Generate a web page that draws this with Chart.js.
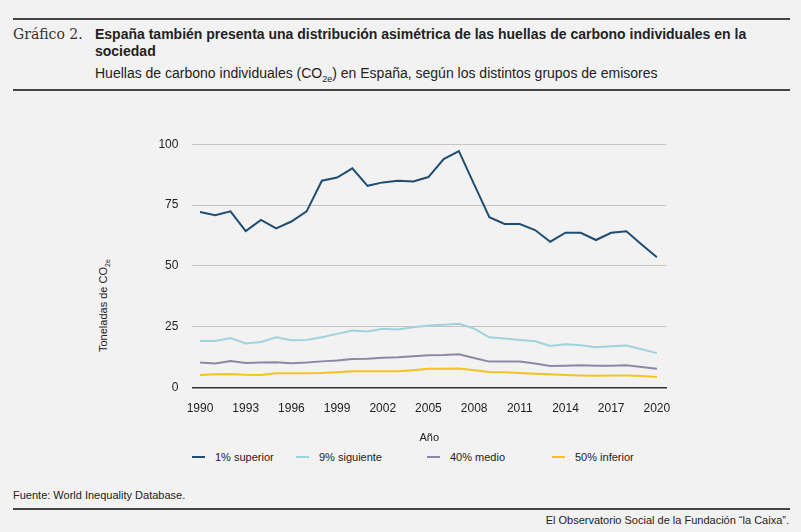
<!DOCTYPE html>
<html><head><meta charset="utf-8">
<script src="https://cdn.jsdelivr.net/npm/chart.js@4"></script>
<style>
body{margin:0;background:#f2f2f2;width:801px;height:532px;position:relative;overflow:hidden;font-family:"Liberation Sans",Arial,sans-serif;color:#222}
.rule{position:absolute;left:13px;width:777px;height:2px;background:#444}
#c{position:absolute;left:90px;top:123px}
.t{position:absolute;white-space:nowrap}
.lg{position:absolute;top:451px;font-size:11px;white-space:nowrap}
.lg i{display:inline-block;width:13px;height:2.5px;vertical-align:middle;margin-right:10px;margin-top:-2px}
</style></head><body>
<div class="rule" style="top:18px"></div>
<div class="t" style="left:13px;top:26px;font-family:'DejaVu Serif',serif;font-size:14px;color:#333">Gráfico 2.</div>
<div class="t" style="left:95px;top:26px;font-weight:bold;font-size:14px;line-height:17px">España también presenta una distribución asimétrica de las huellas de carbono individuales en la<br>sociedad</div>
<div class="t" style="left:95px;top:65px;font-size:14px">Huellas de carbono individuales (CO<sub style="font-size:9px">2e</sub>) en España, según los distintos grupos de emisores</div>
<div class="rule" style="top:89px"></div>
<div class="t" style="left:97px;top:352px;font-size:11px;transform:rotate(-90deg);transform-origin:0 0">Toneladas de CO<sub style="font-size:7px">2e</sub></div>
<div id="legend"></div>
<div class="t" style="left:13px;top:489px;font-size:11px">Fuente: World Inequality Database.</div>
<div class="rule" style="top:508px"></div>
<div class="t" style="right:12px;top:514px;font-size:11px">El Observatorio Social de la Fundación “la Caixa”.</div>
<canvas id="c" width="588" height="322" style="width:588px;height:322px"></canvas>
<script>
const years=[];for(let y=1990;y<=2020;y++)years.push(y);
const top1=[72.1,70.8,72.4,64.3,68.9,65.4,68.2,72.4,85,86.3,90.1,82.9,84.3,85,84.7,86.5,93.9,97.2,83.5,70,67.2,67.2,64.7,59.9,63.6,63.6,60.6,63.6,64.2,58.8,53.5];
const next9=[19.1,19.1,20.3,18.1,18.7,20.6,19.4,19.5,20.6,22,23.4,23,24.1,23.8,24.7,25.5,25.8,26.2,24.2,20.6,20.1,19.5,19,17,17.7,17.3,16.5,16.9,17.2,15.7,14.1];
const mid40=[10.2,9.8,10.9,10,10.2,10.3,9.9,10.2,10.7,11.1,11.7,11.8,12.2,12.4,12.8,13.2,13.3,13.6,12.1,10.6,10.6,10.6,9.8,8.8,8.9,9.1,8.9,8.9,9.1,8.4,7.7];
const bot50=[5.1,5.4,5.5,5.2,5.1,5.8,5.8,5.8,5.9,6.2,6.6,6.6,6.6,6.6,7.1,7.7,7.7,7.8,7.1,6.3,6.2,5.9,5.6,5.4,5.1,4.9,4.8,4.9,4.9,4.7,4.3];
const names=["1% superior","9% siguiente","40% medio","50% inferior"];
const colors=["#1f4e72","#9fd3df","#8d87a6","#f6c31c"];
const legendX=[192,296,427,552];
const yTicks=[0,25,50,75,100];
const series=[top1,next9,mid40,bot50];
document.getElementById('legend').innerHTML=names.map((n,i)=>`<div class="lg" style="left:${legendX[i]}px"><i style="background:${colors[i]}"></i>${n}</div>`).join('');
Chart.defaults.font.family="'Liberation Sans',Arial,sans-serif";
Chart.defaults.color="#222";
new Chart(document.getElementById('c'),{type:'line',
data:{datasets:series.map((s,i)=>({label:names[i],data:s.map((v,j)=>({x:years[j],y:v})),borderColor:colors[i],backgroundColor:colors[i],borderWidth:2,pointRadius:0,tension:0}))},
options:{responsive:false,animation:false,
layout:{padding:{left:0,right:12,top:0,bottom:0}},
plugins:{legend:{display:false},tooltip:{enabled:false}},
scales:{
x:{type:'linear',min:1989.5,max:2020.6,afterBuildTicks:a=>{a.ticks=years.filter(y=>(y-1990)%3===0).map(v=>({value:v}))},
 grid:{display:false},border:{color:'#333',width:1.5},ticks:{font:{size:12},maxRotation:0,callback:v=>String(v),padding:6},
 title:{display:true,text:'Año',font:{size:11},padding:{top:10,bottom:0}}},
y:{min:0,max:100,afterBuildTicks:a=>{a.ticks=yTicks.map(v=>({value:v}))},
 grid:{color:'#c4c4c4',drawTicks:false},border:{display:false},ticks:{font:{size:12},padding:14},
 title:{display:true,text:' ',padding:{bottom:36}}}
}}});
</script></body></html>
